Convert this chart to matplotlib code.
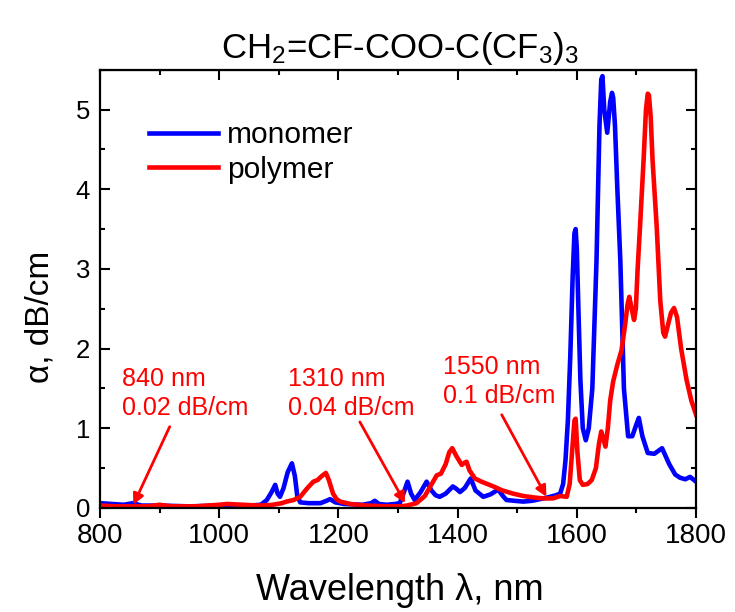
import matplotlib
matplotlib.use("Agg")
import matplotlib.pyplot as plt
from matplotlib.ticker import MultipleLocator

plt.rcParams['font.family'] = ['Liberation Sans', 'DejaVu Sans']
plt.rcParams['mathtext.default'] = 'regular'

# monomer spectrum (wavelength nm, attenuation dB/cm)
mono_wl = [800, 820, 840, 855, 870, 900, 950, 1000, 1050, 1070, 1080, 1088, 1094, 1098,
           1102, 1108, 1115, 1122, 1127, 1131, 1136, 1150, 1170, 1180, 1186, 1195, 1210,
           1240, 1255, 1261, 1268, 1281, 1295, 1303, 1310, 1316, 1322, 1328, 1338, 1348,
           1356, 1363, 1370, 1380, 1392, 1398, 1404, 1412, 1422, 1430, 1443, 1455, 1468,
           1476, 1482, 1495, 1510, 1525, 1544, 1555, 1565, 1572, 1577, 1581, 1585, 1589,
           1593, 1596, 1598, 1600, 1603, 1606, 1610, 1615, 1620, 1626, 1633, 1638, 1641,
           1643, 1646, 1651, 1656, 1659, 1661, 1664, 1668, 1673, 1679, 1686, 1693, 1700,
           1704, 1710, 1719, 1730, 1743, 1755, 1765, 1773, 1782, 1790, 1800]
mono_a = [0.06, 0.05, 0.04, 0.06, 0.03, 0.03, 0.02, 0.03, 0.03, 0.04, 0.10, 0.20, 0.29, 0.18,
          0.14, 0.25, 0.45, 0.56, 0.40, 0.15, 0.07, 0.06, 0.06, 0.09, 0.11, 0.07, 0.05,
          0.04, 0.06, 0.09, 0.05, 0.04, 0.05, 0.06, 0.20, 0.33, 0.18, 0.10, 0.20, 0.33,
          0.22, 0.16, 0.14, 0.18, 0.27, 0.24, 0.20, 0.25, 0.37, 0.22, 0.14, 0.17, 0.23,
          0.15, 0.10, 0.09, 0.08, 0.09, 0.12, 0.14, 0.16, 0.18, 0.30, 0.60, 1.10, 1.90,
          2.90, 3.45, 3.50, 3.25, 2.40, 1.60, 1.00, 0.85, 1.00, 1.50, 3.10, 4.80, 5.38,
          5.42, 5.00, 4.71, 5.10, 5.21, 5.15, 4.80, 4.00, 3.10, 1.50, 0.90, 0.90, 1.05,
          1.13, 0.90, 0.69, 0.68, 0.75, 0.55, 0.42, 0.38, 0.36, 0.39, 0.33]

# polymer spectrum
poly_wl = [800, 830, 856, 880, 900, 920, 960, 1000, 1013, 1040, 1068, 1090, 1105, 1113,
           1125, 1136, 1148, 1158, 1165, 1172, 1179, 1184, 1191, 1197, 1203, 1220, 1247,
           1280, 1303, 1315, 1331, 1345, 1355, 1365, 1372, 1380, 1386, 1391, 1398, 1407,
           1412, 1415, 1420, 1429, 1440, 1450, 1460, 1475, 1493, 1510, 1530, 1544, 1560,
           1572, 1583, 1588, 1592, 1596, 1598, 1601, 1605, 1610, 1618, 1625, 1632, 1637,
           1641, 1645, 1648, 1652, 1656, 1661, 1668, 1675, 1681, 1685, 1688, 1692, 1696,
           1699, 1702, 1706, 1712, 1716, 1719, 1721, 1724, 1727, 1734, 1740, 1745, 1748,
           1753, 1758, 1763, 1768, 1775, 1784, 1792, 1800]
poly_a = [0.03, 0.02, 0.02, 0.02, 0.04, 0.02, 0.02, 0.04, 0.05, 0.04, 0.03, 0.04, 0.06, 0.08,
          0.10, 0.14, 0.25, 0.33, 0.35, 0.40, 0.44, 0.35, 0.18, 0.11, 0.08, 0.05, 0.03,
          0.02, 0.02, 0.03, 0.06, 0.15, 0.28, 0.41, 0.43, 0.55, 0.70, 0.75, 0.65, 0.54,
          0.57, 0.58, 0.47, 0.37, 0.33, 0.30, 0.27, 0.22, 0.18, 0.15, 0.13, 0.12, 0.12,
          0.15, 0.14, 0.30, 0.70, 1.10, 1.12, 0.70, 0.35, 0.29, 0.30, 0.35, 0.50, 0.80,
          0.96, 0.85, 0.77, 1.00, 1.35, 1.59, 1.80, 1.98, 2.30, 2.55, 2.65, 2.50, 2.36,
          2.50, 3.00, 3.53, 4.37, 5.00, 5.20, 5.18, 4.90, 4.37, 3.53, 2.60, 2.20, 2.15,
          2.30, 2.45, 2.51, 2.40, 2.00, 1.61, 1.35, 1.17]

# annotations: label, text anchor (wl, a), arrow start, arrow tip
notes = ["840 nm\n0.02 dB/cm", "1310 nm\n0.04 dB/cm", "1550 nm\n0.1 dB/cm"]
note_xy = [(837, 1.77), (1115, 1.77), (1375, 1.92)]
arrow_from = [(917, 1.02), (1236, 1.08), (1474, 1.17)]
arrow_to = [(856, 0.04), (1312, 0.06), (1549, 0.14)]

fig = plt.figure(figsize=(7.35, 6.12), dpi=100)
ax = fig.add_axes([0.136, 0.170, 0.811, 0.716])

ax.plot(mono_wl, mono_a, color="#0000ff", lw=3.3, label="monomer", solid_joinstyle="round")
ax.plot(poly_wl, poly_a, color="#ff0000", lw=3.3, label="polymer", solid_joinstyle="round")

for txt, xy, a0, a1 in zip(notes, note_xy, arrow_from, arrow_to):
    ax.text(xy[0], xy[1], txt, color="#ff0000", fontsize=18, va="top", ha="left",
            linespacing=1.25)
    ax.annotate("", xy=a1, xytext=a0,
                arrowprops=dict(arrowstyle="-|>", color="#ff0000", lw=2,
                                mutation_scale=16, shrinkA=0, shrinkB=0))

ax.set_xlim(800, 1800)
ax.set_ylim(0, 5.5)
ax.xaxis.set_major_locator(MultipleLocator(200))
ax.xaxis.set_minor_locator(MultipleLocator(100))
ax.yaxis.set_major_locator(MultipleLocator(1))
ax.yaxis.set_minor_locator(MultipleLocator(0.5))
ax.tick_params(axis="x", which="both", direction="out", top=False, labelsize=20, width=1.5)
ax.tick_params(axis="y", which="both", direction="in", right=True, labelsize=18.5,
               width=1.5, pad=7)
ax.tick_params(which="major", length=7)
ax.tick_params(which="minor", length=3.5)
for s in ax.spines.values():
    s.set_linewidth(1.6)

top = ax.secondary_xaxis("top")
top.xaxis.set_major_locator(MultipleLocator(200))
top.xaxis.set_minor_locator(MultipleLocator(100))
top.tick_params(which="both", direction="in", labeltop=False, width=1.5)
top.tick_params(which="major", length=7)
top.tick_params(which="minor", length=3.5)

fig.text(0.544, 0.020, "Wavelength λ, nm", fontsize=26, ha="center", va="baseline")
fig.text(0.054, 0.482, "α, dB/cm", fontsize=24, rotation=90, ha="center", va="center")
fig.text(0.544, 0.905, r"CH$_2$=CF-COO-C(CF$_3$)$_3$", fontsize=25, ha="center",
         va="baseline")

ax.legend(loc="upper left", bbox_to_anchor=(0.048, 0.93), frameon=False, fontsize=21.5,
          handlelength=2.3, handletextpad=0.3, labelspacing=0.22, borderpad=0.2)

fig.savefig("out.png", dpi=100)
